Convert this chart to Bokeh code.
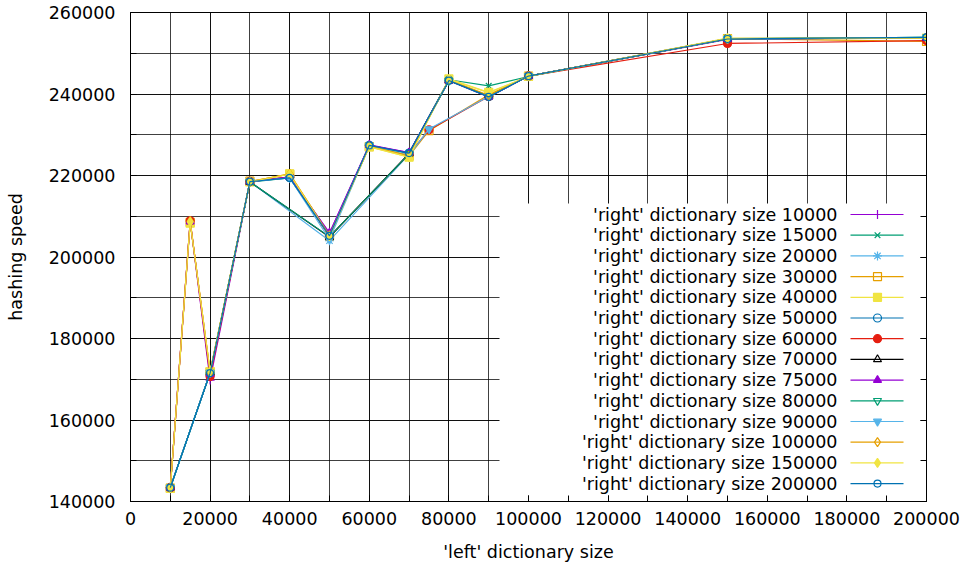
from bokeh.plotting import figure
from bokeh.models import Range1d, SingleIntervalTicker, LinearAxis, BoxAnnotation, BasicTickFormatter
from bokeh.core.properties import value
from bokeh.embed import file_html
from bokeh.resources import INLINE

# ---------------- data ----------------
left_sizes = [10000, 15000, 20000, 30000, 40000, 50000, 60000, 70000, 75000,
              80000, 90000, 100000, 150000, 200000]

right_sizes = [10000, 15000, 20000, 30000, 40000, 50000, 60000, 70000, 75000,
               80000, 90000, 100000, 150000, 200000]

N = None
speed_10000 = [143400, 208700, 169800, 218500, 219600, 205800, 227400, 225600, N, 243300, 239500, 244400, 253400, 253800]
speed_15000 = [143300, N, 171500, 218400, 219400, 205100, 227200, 225500, N, 243500, 242000, 244300, 253500, 253900]
speed_20000 = [143400, N, 171600, 218500, N, 204000, N, 225200, N, 243200, 239300, 244400, 253600, 253700]
speed_30000 = [143300, 208500, 171800, 218600, 220300, 205200, 227100, 224800, 231000, N, 239800, 244400, 253600, 252900]
speed_40000 = [143200, 208300, 171900, 218400, 220400, 205400, 227000, 224500, N, 243700, 240400, 244300, 253500, 253700]
speed_50000 = [143400, N, 171500, 218500, 219500, 205300, 227400, 225500, N, 243400, 239400, 244400, 253600, 253800]
speed_60000 = [143400, 208900, 170700, 218500, 219700, 205000, N, 225300, 231200, N, 239400, 244400, 252400, 253100]
speed_70000 = [143400, N, 171600, 218400, N, 204900, N, 225400, N, 243300, 239400, 244400, 253500, 253800]
speed_75000 = [143400, 208700, 171300, 218500, 219600, 205900, 227500, 225600, N, 243300, 239300, 244400, 253500, 253800]
speed_80000 = [143400, N, 171600, 218400, N, 205000, N, 225300, N, 243300, 239500, 244400, 253500, 253900]
speed_90000 = [143400, N, 171600, 218500, 219400, 204300, 227300, 225000, 231400, N, 239400, 244400, 253500, 253800]
speed_100000 = [143400, 208800, 171700, 218500, 220400, 205300, 227200, 224900, N, 243500, 239700, 244400, 253600, 253700]
speed_150000 = [143300, 208600, 172000, 218400, 220300, 205100, 227100, 224500, N, 243600, 240300, 244300, 253700, 253700]
speed_200000 = [143400, N, 171500, 218500, 219400, 205200, 227400, 225500, N, 243300, 239300, 244400, 253500, 253900]

series = [speed_10000, speed_15000, speed_20000, speed_30000, speed_40000, speed_50000, speed_60000,
          speed_70000, speed_75000, speed_80000, speed_90000, speed_100000, speed_150000, speed_200000]

labels = ["'right' dictionary size %d" % r for r in right_sizes]

# ---------------- styles ----------------
colors = ["#9400d3", "#009e73", "#56b4e9", "#e69f00", "#f0e442", "#0072b2", "#e51e10",
          "#000000", "#9400d3", "#009e73", "#56b4e9", "#e69f00", "#f0e442", "#0072b2"]
markers = ["cross", "x", "asterisk", "square", "square", "circle", "circle",
           "triangle", "triangle", "inverted_triangle", "inverted_triangle", "diamond", "diamond", "circle"]
filled = [False, False, False, False, True, False, True, False, True, False, True, False, True, False]
msizes = [9, 8, 9, 8, 8, 8, 8, 8, 8, 8, 8, 9, 9, 7]

FONT = "DejaVu Sans"
FS = "17.5px"

XMIN, XMAX, YMIN, YMAX = 0, 200000, 140000, 260000
FL, FR, FT, FB = 130, 926, 12, 501   # frame pixels


def px_x(px):
    return XMIN + (px - FL) / (FR - FL) * (XMAX - XMIN)


def px_y(py):
    return YMIN + (FB - py) / (FB - FT) * (YMAX - YMIN)


p = figure(width=966, height=569, x_range=Range1d(XMIN, XMAX), y_range=Range1d(YMIN, YMAX),
           output_backend="svg", toolbar_location=None,
           min_border_left=FL, min_border_right=966 - FR, min_border_top=FT, min_border_bottom=569 - FB,
           x_axis_location=None, y_axis_location=None)
p.outline_line_color = "black"
p.outline_line_width = 1
p.background_fill_color = "white"
p.border_fill_color = "white"


def make_axis(label=None):
    ax = LinearAxis(ticker=SingleIntervalTicker(interval=20000, num_minor_ticks=2),
                    formatter=BasicTickFormatter(use_scientific=False))
    ax.major_tick_in = 6
    ax.major_tick_out = 0
    ax.minor_tick_in = 6
    ax.minor_tick_out = 0
    ax.axis_line_color = "black"
    ax.major_tick_line_color = "black"
    ax.minor_tick_line_color = "black"
    ax.major_label_text_font = FONT
    ax.major_label_text_font_size = FS
    ax.major_label_text_color = "black"
    if label:
        ax.axis_label = label
        ax.axis_label_text_font = FONT
        ax.axis_label_text_font_size = FS
        ax.axis_label_text_font_style = "normal"
        ax.axis_label_text_color = "black"
    return ax


xb = make_axis("'left' dictionary size")
xb.major_label_standoff = 10
xb.axis_label_standoff = 14
p.add_layout(xb, "below")

yl = make_axis("hashing speed")
yl.major_label_standoff = 15
yl.axis_label_standoff = 20
p.add_layout(yl, "left")

# mirrored ticks on the right (no labels)
yr = make_axis()
yr.major_label_overrides = {float(v): "" for v in range(YMIN, YMAX + 1, 20000)}
yr.major_label_standoff = 0
p.add_layout(yr, "right")

for g in (p.xgrid, p.ygrid):
    g.ticker = SingleIntervalTicker(interval=20000, num_minor_ticks=2)
    g.grid_line_color = "black"
    g.grid_line_alpha = 0.75
    g.minor_grid_line_color = "black"
    g.minor_grid_line_alpha = 0.75

# legend background box (covers grid)
L_LEFT, L_TOP = 499, 203
box = BoxAnnotation(left=px_x(L_LEFT), right=XMAX, bottom=YMIN, top=px_y(L_TOP),
                    fill_color="white", fill_alpha=1.0, line_color=None, level="underlay")
p.add_layout(box)

# data lines
for i, ys in enumerate(series):
    xs = [x for x, y in zip(left_sizes, ys) if y is not None]
    yv = [y for y in ys if y is not None]
    p.line(xs, yv, line_color=colors[i], line_width=1.2)
    p.scatter(xs, yv, marker=markers[i], size=msizes[i], line_color=colors[i], line_width=1.2,
              fill_color=colors[i] if filled[i] else None)

# legend entries (text left, sample right, as in gnuplot)
ROW0, DROW = 214, 20.7
TXT_R, S_L, S_R, S_M = 837, 850, 903, 877
for i, lab in enumerate(labels):
    yy = px_y(ROW0 + i * DROW)
    p.text(x=[px_x(TXT_R)], y=[yy], text=[lab], text_align="right", text_baseline="middle",
           text_font=value(FONT), text_font_size=FS, text_color="black")
    p.segment(x0=[px_x(S_L)], y0=[yy], x1=[px_x(S_R)], y1=[yy], line_color=colors[i], line_width=1.2)
    p.scatter(x=[px_x(S_M)], y=[yy], marker=markers[i], size=msizes[i], line_color=colors[i],
              line_width=1.2, fill_color=colors[i] if filled[i] else None)

open("out.html", "w").write(file_html(p, INLINE))
